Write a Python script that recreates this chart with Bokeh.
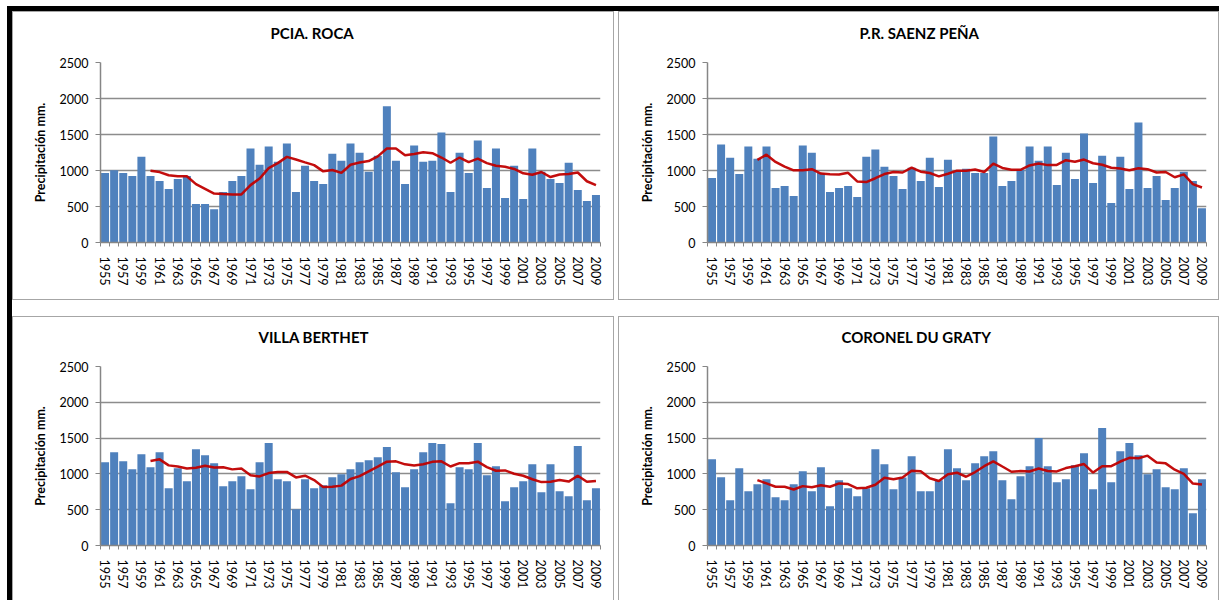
import pandas as pd
from bokeh.plotting import figure
from bokeh.models import Range1d, FixedTicker, Spacer
from bokeh.layouts import row, column
from bokeh.embed import file_html
from bokeh.resources import INLINE

# ---------------- data ----------------
years = [1955, 1956, 1957, 1958, 1959, 1960, 1961, 1962, 1963, 1964,
         1965, 1966, 1967, 1968, 1969, 1970, 1971, 1972, 1973, 1974,
         1975, 1976, 1977, 1978, 1979, 1980, 1981, 1982, 1983, 1984,
         1985, 1986, 1987, 1988, 1989, 1990, 1991, 1992, 1993, 1994,
         1995, 1996, 1997, 1998, 1999, 2000, 2001, 2002, 2003, 2004,
         2005, 2006, 2007, 2008, 2009]

x_tick_years = [1955, 1957, 1959, 1961, 1963, 1965, 1967, 1969, 1971, 1973,
                1975, 1977, 1979, 1981, 1983, 1985, 1987, 1989, 1991, 1993,
                1995, 1997, 1999, 2001, 2003, 2005, 2007, 2009]
x_tick_labels = ["1955", "1957", "1959", "1961", "1963", "1965", "1967", "1969",
                 "1971", "1973", "1975", "1977", "1979", "1981", "1983", "1985",
                 "1987", "1989", "1991", "1993", "1995", "1997", "1999", "2001",
                 "2003", "2005", "2007", "2009"]
y_ticks = [0, 500, 1000, 1500, 2000, 2500]
y_tick_labels = ["0", "500", "1000", "1500", "2000", "2500"]

titles = ["PCIA. ROCA", "P.R. SAENZ PEÑA", "VILLA BERTHET", "CORONEL DU GRATY"]
y_axis_label = "Precipitación mm."

pcia_roca = [967, 1005, 967, 925, 1192, 925, 855, 743, 883, 925,
             533, 533, 463, 701, 855, 925, 1304, 1080, 1332, 1121,
             1374, 701, 1065, 855, 813, 1234, 1136, 1374, 1248, 981,
             1206, 1893, 1136, 813, 1346, 1121, 1136, 1528, 701, 1248,
             967, 1416, 757, 1304, 617, 1065, 603, 1304, 981, 883,
             827, 1108, 729, 575, 659]

saenz_pena = [897, 1360, 1178, 953, 1332, 1164, 1332, 757, 785, 645,
              1346, 1248, 967, 701, 757, 785, 631, 1192, 1290, 1051,
              925, 743, 1037, 855, 1178, 771, 1150, 995, 1023, 967,
              967, 1472, 785, 855, 1009, 1332, 1136, 1332, 799, 1248,
              883, 1514, 827, 1206, 547, 1192, 743, 1668, 757, 925,
              589, 757, 981, 855, 477]

villa_berthet = [1164, 1304, 1178, 1065, 1276, 1093, 1304, 799, 1079, 897,
                 1346, 1262, 1150, 827, 897, 967, 785, 1164, 1430, 925,
                 897, 505, 925, 799, 841, 953, 995, 1065, 1164, 1192,
                 1234, 1374, 1023, 813, 1065, 1304, 1430, 1416, 589, 1093,
                 1065, 1430, 981, 1107, 617, 813, 897, 1136, 743, 1136,
                 757, 687, 1388, 631, 799]

coronel_du_graty = [1206, 953, 631, 1079, 757, 855, 925, 673, 631, 855,
                    1037, 757, 1093, 547, 911, 799, 687, 799, 1346, 1136,
                    785, 950, 1248, 757, 757, 911, 1346, 1079, 911, 1150,
                    1248, 1318, 911, 645, 967, 1107, 1500, 1107, 883, 925,
                    1121, 1290, 785, 1640, 883, 1318, 1430, 1262, 995, 1065,
                    813, 785, 1079, 449, 925]

# Excel "6 per. Mov. Avg." trendline period
ma_period = 6

BAR = "#4f81bd"
TREND = "#c00000"
GRID = "#8c8c8c"
AXIS = "#868686"
FONT = "Lato"


def make_panel(title, vals, width, height, mb_left, mb_right, mb_top, mb_bottom,
               title_offset, css):
    p = figure(width=width, height=height,
               x_range=Range1d(years[0] - 0.5, years[-1] + 0.5),
               y_range=Range1d(y_ticks[0], y_ticks[-1]),
               output_backend="svg", toolbar_location=None,
               min_border_left=mb_left, min_border_right=mb_right,
               min_border_top=mb_top, min_border_bottom=mb_bottom,
               styles=css)
    p.outline_line_color = None
    p.background_fill_color = "white"
    p.border_fill_color = "white"

    p.vbar(x=years, top=vals, width=0.88, fill_color=BAR, line_color=None)
    ma = pd.Series(vals, dtype=float).rolling(ma_period).mean()
    p.line(x=years[ma_period - 1:], y=list(ma[ma_period - 1:]),
           line_color=TREND, line_width=2.5, line_alpha=0.95)

    # title: an empty second line makes the title box taller, lifting the text
    p.title.text = title + "\n"
    p.title.align = "left"
    p.title.offset = title_offset
    p.title.vertical_align = "top"
    p.title.standoff = 2
    p.title.text_font = FONT
    p.title.text_font_style = "bold"
    p.title.text_font_size = "15px"
    p.title.text_color = "#000000"

    # grid
    p.xgrid.grid_line_color = None
    p.ygrid.grid_line_color = GRID
    p.ygrid.grid_line_width = 1.3

    # x axis
    xa = p.xaxis[0]
    xa.ticker = FixedTicker(ticks=x_tick_years,
                            minor_ticks=[y - 0.5 for y in years] + [years[-1] + 0.5])
    xa.major_label_overrides = dict(zip(x_tick_years, x_tick_labels))
    xa.major_label_orientation = "vertical"
    xa.major_tick_out = 0
    xa.major_tick_in = 0
    xa.minor_tick_out = 4
    xa.minor_tick_in = 0
    xa.minor_tick_line_color = AXIS
    xa.axis_line_color = AXIS
    xa.axis_line_width = 1.3
    xa.major_label_standoff = 10
    xa.major_label_text_font = FONT
    xa.major_label_text_font_size = "12.5px"
    xa.major_label_text_color = "#000000"

    # y axis
    ya = p.yaxis[0]
    ya.ticker = FixedTicker(ticks=y_ticks, minor_ticks=[])
    ya.major_label_overrides = dict(zip(y_ticks, y_tick_labels))
    ya.major_tick_out = 5
    ya.major_tick_in = 0
    ya.major_tick_line_color = AXIS
    ya.minor_tick_line_color = None
    ya.axis_line_color = AXIS
    ya.axis_line_width = 1.5
    ya.major_label_standoff = 7
    ya.major_label_text_font = FONT
    ya.major_label_text_font_size = "12.5px"
    ya.major_label_text_color = "#000000"
    ya.axis_label = y_axis_label
    ya.axis_label_text_font = FONT
    ya.axis_label_text_font_style = "bold"
    ya.axis_label_text_font_size = "12.5px"
    ya.axis_label_text_color = "#000000"
    ya.axis_label_standoff = 9
    return p


BORDER_TOP = {"border": "1px solid #a6a6a6", "box-sizing": "border-box"}
BORDER_BOT = {"border-top": "1px solid #a6a6a6", "border-left": "1px solid #a6a6a6",
              "border-right": "1px solid #a6a6a6", "box-sizing": "border-box"}

p1 = make_panel(titles[0], pcia_roca, 602, 289, 87, 15, 50, 59, 170, BORDER_TOP)
p2 = make_panel(titles[1], saenz_pena, 601, 289, 88, 14, 50, 59, 152, BORDER_TOP)
p3 = make_panel(titles[2], villa_berthet, 602, 284, 87, 15, 49, 56, 158, BORDER_BOT)
p4 = make_panel(titles[3], coronel_du_graty, 601, 284, 88, 14, 49, 56, 134, BORDER_BOT)

BLACK = {"background-color": "#000000"}
panels = column(row(p1, p2, spacing=4), row(p3, p4, spacing=4), spacing=16)
left_bar = Spacer(width=5, height=589, styles=BLACK)
top_bar = Spacer(width=1212, height=5, styles=BLACK)
framed = column(top_bar, row(left_bar, panels, spacing=0), spacing=0)
root = column(Spacer(width=1219, height=6),
              row(Spacer(width=7, height=594), framed, spacing=0),
              spacing=0)

open("out.html", "w").write(file_html(root, INLINE))
